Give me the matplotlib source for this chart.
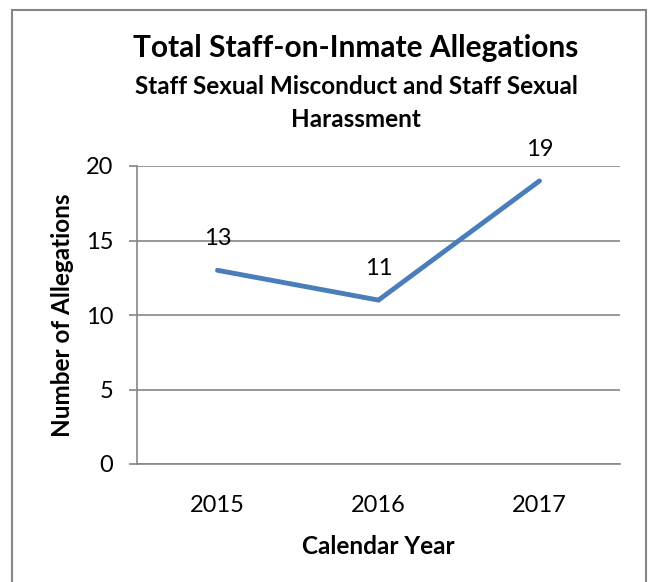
import matplotlib.pyplot as plt
from matplotlib.patches import Rectangle

years = ["2015", "2016", "2017"]
allegations = [13, 11, 19]
y_ticks = [0, 5, 10, 15, 20]

plt.rcParams["font.family"] = ["Lato", "DejaVu Sans"]

fig = plt.figure(figsize=(6.5, 5.82), dpi=100)
ax = fig.add_axes([137 / 650, 1 - 464 / 582, (620 - 137) / 650, (464 - 166) / 582])

# outer chart border (open at the bottom, as in the source)
fig.add_artist(Rectangle((12 / 650, -0.05), (646 - 12) / 650, 1.05 - 10 / 582,
                         transform=fig.transFigure, fill=False,
                         edgecolor="#868686", linewidth=1.5))

x = range(len(years))
ax.plot(x, allegations, color="#4A7EBB", linewidth=3.5, solid_capstyle="round",
        solid_joinstyle="miter")
for xi, v in zip(x, allegations):
    ax.annotate(str(v), (xi, v), xytext=(0, 15), textcoords="offset points",
                ha="center", va="bottom", fontsize=17, color="black")

ax.set_xlim(-0.5, len(years) - 0.5)
ax.set_ylim(0, 20)
ax.set_yticks(y_ticks)
ax.set_xticks(list(x))
ax.set_xticklabels(years)
ax.tick_params(axis="y", length=6, width=1.2, color="#868686", labelsize=17, pad=11)
ax.tick_params(axis="x", length=0, labelsize=17, pad=22)
ax.yaxis.grid(True, color="#868686", linewidth=1.2)
ax.set_axisbelow(True)
for side in ["top", "right"]:
    ax.spines[side].set_visible(False)
for side in ["left", "bottom"]:
    ax.spines[side].set_color("#868686")
    ax.spines[side].set_linewidth(1.2)

ax.set_xlabel("Calendar Year", fontsize=17.5, fontweight="bold")
ax.set_ylabel("Number of Allegations", fontsize=17.5, fontweight="bold")
ax.xaxis.set_label_coords(378 / 650, 1 - 535 / 582, transform=fig.transFigure)
ax.yaxis.set_label_coords(74 / 650, 1 - 315 / 582, transform=fig.transFigure)

title_x = 356 / 650
fig.text(title_x, 1 - 48 / 582, "Total Staff-on-Inmate Allegations", ha="center",
         va="center", fontsize=21.5, fontweight="bold")
fig.text(title_x, 1 - 86 / 582, "Staff Sexual Misconduct and Staff Sexual", ha="center",
         va="center", fontsize=17.5, fontweight="bold")
fig.text(title_x, 1 - 120 / 582, "Harassment", ha="center",
         va="center", fontsize=17.5, fontweight="bold")

fig.savefig("out.png", dpi=100)
